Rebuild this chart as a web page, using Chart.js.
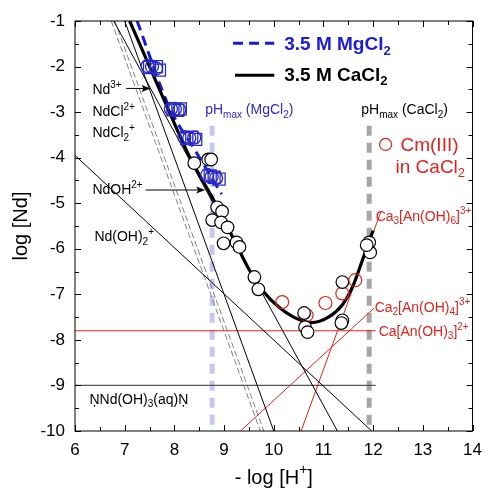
<!DOCTYPE html>
<html>
<head>
<meta charset="utf-8">
<script src="https://cdn.jsdelivr.net/npm/chart.js@4.4.1/dist/chart.umd.min.js"></script>
<style>
html, body { margin: 0; padding: 0; background: #fff; }
</style>
</head>
<body>
<canvas id="ndChart" width="491" height="488"></canvas>
<script>
const FONT = '"Liberation Sans", Arial, sans-serif';

// axis ranges
const xMin = 6, xMax = 14;
const yMin = -10, yMax = -1;

// measured solubility, 3.5 M MgCl2 (circles and squares)
const mgCircleX = [7.46, 7.55, 7.63, 7.93, 8.01, 8.10, 8.20, 8.30, 8.40, 8.66, 8.75, 8.84];
const mgCircleY = [-1.99, -2.00, -2.04, -2.93, -2.93, -2.95, -3.55, -3.57, -3.56, -4.38, -4.42, -4.45];
const mgSquareX = [7.50, 7.64, 7.70, 7.97, 8.07, 8.12, 8.25, 8.35, 8.43, 8.72, 8.80, 8.90];
const mgSquareY = [-2.02, -2.00, -2.08, -2.95, -2.96, -2.93, -3.58, -3.55, -3.60, -4.40, -4.43, -4.47];

// measured solubility, 3.5 M CaCl2
const caX = [8.40, 8.68, 8.74, 8.86, 8.96, 8.76, 8.94, 9.07, 8.99, 9.25, 9.31, 9.61, 9.69, 10.61, 10.63, 10.68, 11.38, 11.38, 11.36, 11.92, 11.94, 11.87];
const caY = [-4.12, -4.04, -4.04, -5.09, -5.18, -5.37, -5.42, -5.53, -5.88, -5.86, -5.96, -6.62, -6.89, -7.41, -7.72, -7.83, -6.73, -7.57, -7.63, -5.86, -6.08, -5.92];

// Cm(III) in CaCl2
const cmX = [10.17, 10.66, 11.04, 11.38, 11.64];
const cmY = [-7.17, -7.46, -7.19, -6.98, -6.69];

// calculated total solubility curves
const caFitX = [7.10, 7.50, 7.90, 8.30, 8.80, 9.20, 9.50, 9.80, 10.10, 10.40, 10.75, 11.10, 11.40, 11.60, 11.80, 12.00];
const caFitY = [-1.00, -2.00, -3.00, -3.97, -4.95, -5.80, -6.45, -6.95, -7.28, -7.50, -7.62, -7.50, -7.20, -6.80, -6.20, -5.60];
const mgFitX = [7.25, 7.90, 8.44, 8.95];
const mgFitY = [-1.00, -2.90, -3.88, -4.80];

// species contributions (end points)
const nd3X = [7.00, 10.00], nd3Y = [-1, -10];
const ndClX = [6.73, 9.73], ndClY = [-1, -10];
const ndCl2X = [6.80, 9.80], ndCl2Y = [-1, -10];
const ndOHX = [6.78, 11.28], ndOHY = [-1, -10];
const ndOH2X = [6.00, 11.97], ndOH2Y = [-3.95, -10];
const ndOH3X = [6.00, 12.05], ndOH3Y = [-9, -9];
const caAn3X = [6.00, 12.05], caAn3Y = [-7.8, -7.8];
const ca2An4X = [9.33, 12.02], ca2An4Y = [-10, -7.3];
const ca3An6X = [10.55, 12.16], ca3An6Y = [-10, -5.17];

// pH max markers
const pHmaxMgX = [8.76, 8.76], pHmaxMgY = [-3.3, -10];
const pHmaxCaX = [11.92, 11.92], pHmaxCaY = [-3.3, -10];

function pts(xs, ys) {
    return xs.map((x, i) => ({ x: x, y: ys[i] }));
}

function lineSet(xs, ys, color, width, dash, order) {
    return {
        type: 'line',
        data: pts(xs, ys),
        borderColor: color,
        borderWidth: width,
        borderDash: dash || [],
        pointRadius: 0,
        fill: false,
        showLine: true,
        order: order
    };
}

// text with sub/superscripts: parts = [[text, 'n'|'b'|'p'], ...]
function drawRich(ctx, parts, x, y, size, color, bold) {
    let cx = x;
    ctx.save();
    ctx.fillStyle = color;
    ctx.textBaseline = 'middle';
    ctx.textAlign = 'left';
    for (const [t, m] of parts) {
        const s = m === 'n' ? size : Math.round(size * 0.7);
        ctx.font = (bold ? 'bold ' : '') + s + 'px ' + FONT;
        const dy = m === 'b' ? size * 0.32 : (m === 'p' ? -size * 0.38 : 0);
        ctx.fillText(t, cx, y + dy);
        cx += ctx.measureText(t).width;
    }
    ctx.restore();
    return cx;
}

function arrow(ctx, x1, y1, x2, y2) {
    ctx.save();
    ctx.strokeStyle = '#000';
    ctx.fillStyle = '#000';
    ctx.lineWidth = 1;
    ctx.beginPath();
    ctx.moveTo(x1, y1);
    ctx.lineTo(x2 - 6, y2);
    ctx.stroke();
    ctx.beginPath();
    ctx.moveTo(x2, y2);
    ctx.lineTo(x2 - 9, y2 - 3.5);
    ctx.lineTo(x2 - 7, y2);
    ctx.lineTo(x2 - 9, y2 + 3.5);
    ctx.closePath();
    ctx.fill();
    ctx.restore();
}

const frame = {
    id: 'frame',
    afterDatasetsDraw(chart) {
        const { ctx, chartArea: a, scales: { x, y } } = chart;
        ctx.save();
        ctx.strokeStyle = '#000';
        ctx.lineWidth = 1;
        ctx.strokeRect(a.left, a.top, a.right - a.left, a.bottom - a.top);
        ctx.beginPath();
        for (let v = xMin; v <= xMax + 1e-9; v += 0.5) {
            const px = Math.round(x.getPixelForValue(v)) + 0.5;
            const len = Number.isInteger(v) ? 6 : 4;
            ctx.moveTo(px, a.bottom); ctx.lineTo(px, a.bottom - len);
            ctx.moveTo(px, a.top); ctx.lineTo(px, a.top + len);
        }
        for (let v = yMin; v <= yMax + 1e-9; v += 0.5) {
            const py = Math.round(y.getPixelForValue(v)) + 0.5;
            const len = Number.isInteger(v) ? 6 : 4;
            ctx.moveTo(a.left, py); ctx.lineTo(a.left + len, py);
            ctx.moveTo(a.right, py); ctx.lineTo(a.right - len, py);
        }
        ctx.stroke();
        ctx.restore();
    },
    afterDraw(chart) {
        const { ctx, chartArea: a, scales: { x, y } } = chart;
        const X = v => x.getPixelForValue(v);
        const Y = v => y.getPixelForValue(v);

        // species labels
        drawRich(ctx, [['Nd', 'n'], ['3+', 'p']], X(6.35), Y(-2.52), 14, '#000');
        arrow(ctx, X(7.03), Y(-2.48), X(7.52), Y(-2.48));
        drawRich(ctx, [['NdCl', 'n'], ['2+', 'p']], X(6.35), Y(-3.0), 14, '#000');
        drawRich(ctx, [['NdCl', 'n'], ['2', 'b'], ['+', 'p']], X(6.35), Y(-3.47), 14, '#000');
        drawRich(ctx, [['NdOH', 'n'], ['2+', 'p']], X(6.35), Y(-4.72), 14, '#000');
        arrow(ctx, X(7.42), Y(-4.71), X(8.62), Y(-4.71));
        drawRich(ctx, [['Nd(OH)', 'n'], ['2', 'b'], ['+', 'p']], X(6.39), Y(-5.75), 14, '#000');
        drawRich(ctx, [['\u0145Nd(OH)', 'n'], ['3', 'b'], ['(aq)\u0145', 'n']], X(6.29), Y(-9.32), 14, '#000');

        // pH max labels
        drawRich(ctx, [['pH', 'n'], ['max', 'b'], [' (MgCl', 'n'], ['2', 'b'], [')', 'n']], X(8.62), Y(-2.96), 14, '#2a2ad0');
        drawRich(ctx, [['pH', 'n'], ['max', 'b'], [' (CaCl', 'n'], ['2', 'b'], [')', 'n']], X(11.76), Y(-2.96), 14, '#000');

        // Cm(III) key
        ctx.save();
        ctx.strokeStyle = '#e8201c';
        ctx.lineWidth = 1.2;
        ctx.beginPath();
        ctx.arc(X(12.25), Y(-3.71), 6, 0, Math.PI * 2);
        ctx.stroke();
        ctx.restore();
        drawRich(ctx, [['Cm(III)', 'n']], X(12.55), Y(-3.74), 19, '#e8201c');
        drawRich(ctx, [['in CaCl', 'n'], ['2', 'b']], X(12.45), Y(-4.22), 19, '#e8201c');

        // ternary complex labels
        drawRich(ctx, [['Ca', 'n'], ['3', 'b'], ['[An(OH)', 'n'], ['6', 'b'], [']', 'n'], ['3+', 'p']], X(12.05), Y(-5.3), 14, '#e8201c');
        drawRich(ctx, [['Ca', 'n'], ['2', 'b'], ['[An(OH)', 'n'], ['4', 'b'], [']', 'n'], ['3+', 'p']], X(12.03), Y(-7.3), 14, '#e8201c');
        drawRich(ctx, [['Ca[An(OH)', 'n'], ['3', 'b'], [']', 'n'], ['2+', 'p']], X(12.11), Y(-7.83), 14, '#e8201c');

        // key for the two media
        ctx.save();
        ctx.lineWidth = 3;
        ctx.strokeStyle = '#1a1adc';
        ctx.setLineDash([10, 6]);
        ctx.beginPath();
        ctx.moveTo(X(9.18), Y(-1.49)); ctx.lineTo(X(10.01), Y(-1.49));
        ctx.stroke();
        ctx.setLineDash([]);
        ctx.strokeStyle = '#000';
        ctx.beginPath();
        ctx.moveTo(X(9.22), Y(-2.19)); ctx.lineTo(X(10.01), Y(-2.19));
        ctx.stroke();
        ctx.restore();
        drawRich(ctx, [['3.5 M MgCl', 'n'], ['2', 'b']], X(10.21), Y(-1.53), 19, '#1a1adc', true);
        drawRich(ctx, [['3.5 M CaCl', 'n'], ['2', 'b']], X(10.21), Y(-2.2), 19, '#000', true);

        // axis titles
        ctx.save();
        ctx.font = '20px ' + FONT;
        const w1 = ctx.measureText('- log [H').width;
        const w3 = ctx.measureText(']').width;
        ctx.font = '14px ' + FONT;
        const w2 = ctx.measureText('+').width;
        ctx.restore();
        const cx = (a.left + a.right) / 2 - (w1 + w2 + w3) / 2;
        drawRich(ctx, [['- log [H', 'n'], ['+', 'p'], [']', 'n']], cx, 478, 20, '#000');

        ctx.save();
        ctx.translate(21, (a.top + a.bottom) / 2);
        ctx.rotate(-Math.PI / 2);
        ctx.font = '20px ' + FONT;
        ctx.fillStyle = '#000';
        ctx.textAlign = 'center';
        ctx.textBaseline = 'middle';
        ctx.fillText('log [Nd]', 0, 0);
        ctx.restore();
    }
};

new Chart(document.getElementById('ndChart').getContext('2d'), {
    type: 'scatter',
    data: {
        datasets: [
            lineSet(pHmaxMgX, pHmaxMgY, '#c6c6f2', 5, [10, 7], 20),
            lineSet(pHmaxCaX, pHmaxCaY, '#a6a6a6', 5, [10, 7], 20),
            lineSet(ndClX, ndClY, '#808080', 1, [6, 3], 15),
            lineSet(ndCl2X, ndCl2Y, '#808080', 1, [6, 3], 15),
            lineSet(nd3X, nd3Y, '#000', 1, null, 14),
            lineSet(ndOHX, ndOHY, '#000', 1, null, 14),
            lineSet(ndOH2X, ndOH2Y, '#000', 1, null, 14),
            lineSet(ndOH3X, ndOH3Y, '#555', 1.3, null, 14),
            lineSet(caAn3X, caAn3Y, '#e8201c', 1, null, 14),
            lineSet(ca2An4X, ca2An4Y, '#e8201c', 1, null, 14),
            lineSet(ca3An6X, ca3An6Y, '#e8201c', 1, null, 14),
            Object.assign(lineSet(caFitX, caFitY, '#000', 3.2, null, 10), { cubicInterpolationMode: 'monotone' }),
            Object.assign(lineSet(mgFitX, mgFitY, '#1a1adc', 3, [10, 6], 10), { cubicInterpolationMode: 'monotone' }),
            {
                data: pts(mgSquareX, mgSquareY),
                pointStyle: 'rect',
                pointRadius: 8.5,
                borderColor: '#2a2ac8',
                backgroundColor: 'rgba(0,0,0,0)',
                borderWidth: 1.3,
                order: 5
            },
            {
                data: pts(mgCircleX, mgCircleY),
                pointStyle: 'circle',
                pointRadius: 6.5,
                borderColor: '#2a2ac8',
                backgroundColor: 'rgba(0,0,0,0)',
                borderWidth: 1.3,
                order: 4
            },
            {
                data: pts(cmX, cmY),
                pointStyle: 'circle',
                pointRadius: 6.5,
                borderColor: '#e8201c',
                backgroundColor: 'rgba(0,0,0,0)',
                borderWidth: 1.2,
                order: 3
            },
            {
                data: pts(caX, caY),
                pointStyle: 'circle',
                pointRadius: 6.3,
                borderColor: '#000',
                backgroundColor: '#fff',
                borderWidth: 1.2,
                order: 2
            }
        ]
    },
    options: {
        responsive: false,
        animation: false,
        layout: { padding: { left: 0, top: 21, right: 13, bottom: 0 } },
        plugins: {
            legend: { display: false },
            tooltip: { enabled: false }
        },
        scales: {
            x: {
                type: 'linear',
                min: xMin,
                max: xMax,
                grid: { display: false, drawTicks: false },
                border: { display: false },
                ticks: {
                    stepSize: 1,
                    padding: 9,
                    color: '#000',
                    font: { family: FONT, size: 17 }
                },
                afterFit(scale) { scale.height = 57; }
            },
            y: {
                type: 'linear',
                min: yMin,
                max: yMax,
                grid: { display: false, drawTicks: false },
                border: { display: false },
                ticks: {
                    stepSize: 1,
                    padding: 10,
                    color: '#000',
                    font: { family: FONT, size: 17 }
                },
                afterFit(scale) { scale.width = 75; }
            }
        }
    },
    plugins: [frame]
});
</script>
</body>
</html>
